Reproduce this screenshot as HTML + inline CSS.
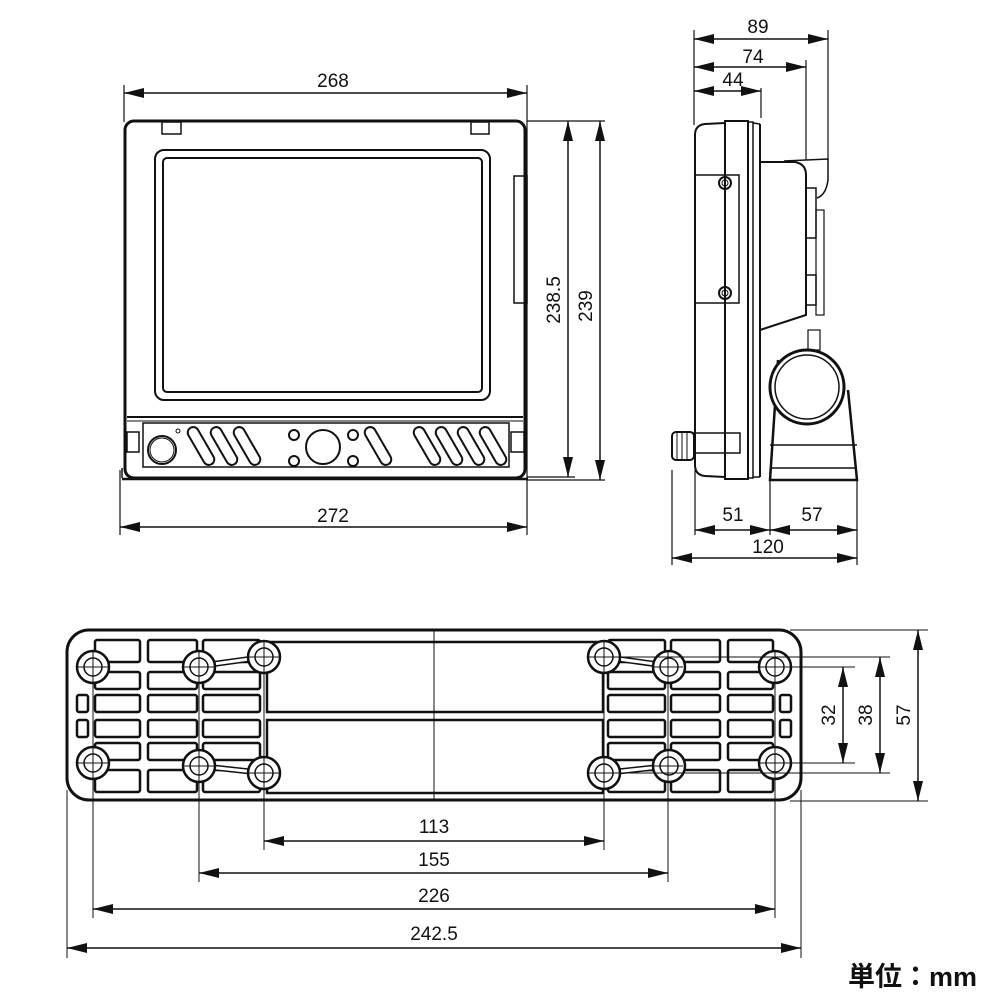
<!DOCTYPE html>
<html><head><meta charset="utf-8"><style>
html,body{margin:0;padding:0;background:#fff;width:1000px;height:1000px;overflow:hidden}
svg{display:block}
text{font-family:"Liberation Sans",Arial,sans-serif;font-size:19px;fill:#111}
</style></head><body>
<svg width="1000" height="1000" viewBox="0 0 1000 1000" xmlns="http://www.w3.org/2000/svg">
<defs>
<marker id="a" viewBox="0 0 20 10" refX="20" refY="5" markerWidth="20" markerHeight="10" markerUnits="userSpaceOnUse" orient="auto-start-reverse"><path d="M0,0 L20,5 L0,10 z" fill="#111"/></marker>
<rect id="sl" x="-5.5" y="-21" width="11" height="42" rx="5.5" transform="rotate(-30)"/>
</defs>
<g stroke="#111" fill="none">
<!-- FRONT VIEW -->
<g stroke-width="1.2">
<line x1="124" y1="85" x2="124" y2="122"/><line x1="527" y1="85" x2="527" y2="482"/>
<line x1="120" y1="470" x2="120" y2="535"/><line x1="527" y1="482" x2="527" y2="535"/>
<line x1="527" y1="121" x2="605" y2="121"/><line x1="527" y1="477" x2="575" y2="477"/><line x1="527" y1="480" x2="605" y2="480"/>
</g>
<g stroke-width="1.5">
<line x1="124" y1="93" x2="527" y2="93" marker-start="url(#a)" marker-end="url(#a)"/>
<line x1="120" y1="527" x2="527" y2="527" marker-start="url(#a)" marker-end="url(#a)"/>
<line x1="568" y1="121" x2="568" y2="477" marker-start="url(#a)" marker-end="url(#a)"/>
<line x1="600" y1="121" x2="600" y2="480" marker-start="url(#a)" marker-end="url(#a)"/>
</g>
<rect x="125" y="121" width="400" height="357" rx="9" stroke-width="3"/>
<rect x="162" y="122" width="19" height="12" stroke-width="1.5"/>
<rect x="471" y="122" width="18" height="12" stroke-width="1.5"/>
<rect x="155" y="150" width="335" height="250" rx="9" stroke-width="2"/>
<rect x="163" y="158" width="319" height="234" rx="4" stroke-width="2"/>
<line x1="127" y1="417" x2="523" y2="417" stroke-width="2"/>
<line x1="127" y1="421" x2="523" y2="421" stroke-width="1"/>
<rect x="143" y="423" width="366" height="44" stroke-width="1.5"/>
<rect x="127" y="432" width="12" height="20" stroke-width="1.5"/>
<rect x="511" y="432" width="13" height="20" stroke-width="1.5"/>
<rect x="514" y="176" width="13" height="127" stroke-width="1.5"/>
<line x1="122" y1="478" x2="122" y2="468" stroke-width="1.5"/>
<line x1="122" y1="479" x2="528" y2="479" stroke-width="2.5"/>
<circle cx="162" cy="450" r="14" stroke-width="2"/><circle cx="162" cy="450" r="12" stroke-width="1"/>
<circle cx="178" cy="431" r="2" stroke-width="1"/>
<g stroke-width="2">
<use href="#sl" x="0" y="0" transform="translate(201,446)"/>
<use href="#sl" transform="translate(224,446)"/>
<use href="#sl" transform="translate(247,446)"/>
<use href="#sl" transform="translate(378,446)"/>
<use href="#sl" transform="translate(427,446)"/>
<use href="#sl" transform="translate(449,446)"/>
<use href="#sl" transform="translate(471,446)"/>
<use href="#sl" transform="translate(493,446)"/>
<circle cx="323" cy="447" r="17"/>
<circle cx="294" cy="435" r="5"/><circle cx="294" cy="461" r="5"/>
<circle cx="353" cy="435" r="5"/><circle cx="353" cy="461" r="5"/>
</g>
<!-- SIDE VIEW -->
<g stroke-width="1.2">
<line x1="694" y1="30" x2="694" y2="125"/><line x1="761" y1="88" x2="761" y2="118"/>
<line x1="806" y1="60" x2="806" y2="160"/><line x1="828" y1="30" x2="828" y2="160"/>
<line x1="695" y1="470" x2="695" y2="535"/><line x1="770" y1="470" x2="770" y2="535"/>
<line x1="857" y1="480" x2="857" y2="565"/><line x1="672" y1="470" x2="672" y2="565"/>
</g>
<g stroke-width="1.5">
<line x1="694" y1="39" x2="828" y2="39" marker-start="url(#a)" marker-end="url(#a)"/>
<line x1="694" y1="67" x2="806" y2="67" marker-start="url(#a)" marker-end="url(#a)"/>
<line x1="694" y1="91" x2="761" y2="91" marker-start="url(#a)" marker-end="url(#a)"/>
<line x1="695" y1="530" x2="770" y2="530" marker-start="url(#a)" marker-end="url(#a)"/>
<line x1="770" y1="530" x2="857" y2="530" marker-start="url(#a)" marker-end="url(#a)"/>
<line x1="672" y1="558" x2="857" y2="558" marker-start="url(#a)" marker-end="url(#a)"/>
</g>
<path d="M725,123 L705,124 Q695,125 695,135 L695,465 Q695,475 705,476 L725,477" stroke-width="2"/>
<rect x="725" y="121" width="23" height="358" stroke-width="2"/>
<rect x="748" y="122" width="5" height="356" stroke-width="1.5"/>
<line x1="753" y1="123" x2="760" y2="124" stroke-width="1.5"/><line x1="760" y1="124" x2="760" y2="477" stroke-width="2"/>
<line x1="753" y1="477" x2="760" y2="477" stroke-width="1.5"/>
<rect x="695" y="175" width="44" height="128" stroke-width="1.5"/>
<circle cx="725" cy="183" r="6" stroke-width="2"/><circle cx="725" cy="183" r="3" stroke-width="1"/>
<circle cx="725" cy="293" r="6" stroke-width="2"/><circle cx="725" cy="293" r="3" stroke-width="1"/>
<path d="M760,162 L795,162 Q806,164 806,175 L806,315 L760,330" stroke-width="2"/>
<path d="M784,161 L828,159 L828,180 Q826,195 817,198" stroke-width="1.5"/>
<rect x="806" y="188" width="10" height="50" stroke-width="1.5"/>
<rect x="806" y="275" width="10" height="30" stroke-width="1.5"/>
<rect x="816" y="210" width="8" height="105" stroke-width="1.2"/>
<rect x="808" y="330" width="12" height="20" stroke-width="1.2"/>
<rect x="672" y="432" width="22" height="28" rx="4" stroke-width="2"/>
<line x1="677" y1="433" x2="677" y2="459" stroke-width="1"/><line x1="682" y1="433" x2="682" y2="459" stroke-width="1"/><line x1="687" y1="433" x2="687" y2="459" stroke-width="1"/>
<rect x="694" y="433" width="46" height="20" stroke-width="1.5"/>
<path d="M778,360 L770,480 L857,480 L848,390" stroke-width="2.5"/>
<line x1="770" y1="445" x2="857" y2="445" stroke-width="1.5"/>
<line x1="772" y1="468" x2="855" y2="468" stroke-width="1.5"/>
<circle cx="807" cy="387" r="37" stroke-width="3" fill="#fff"/>
<circle cx="807" cy="387" r="32" stroke-width="1.5"/>
<!-- BRACKET PLAN -->
<rect x="67" y="630" width="734" height="170" rx="22" stroke-width="3"/>
<g stroke-width="2.5">
<rect x="267" y="642" width="336" height="70"/>
<rect x="267" y="720" width="336" height="73"/>
</g>
<g id="half" stroke-width="2.5">
<rect x="95" y="640" width="45" height="22" rx="2"/><rect x="148" y="640" width="49" height="22" rx="2"/><rect x="203" y="640" width="57" height="22" rx="2"/>
<rect x="95" y="672" width="45" height="17" rx="2"/><rect x="148" y="672" width="49" height="17" rx="2"/><rect x="203" y="672" width="57" height="17" rx="2"/>
<rect x="77" y="695" width="11" height="17" rx="2"/><rect x="95" y="695" width="45" height="17" rx="2"/><rect x="148" y="695" width="49" height="17" rx="2"/><rect x="203" y="695" width="57" height="17" rx="2"/>
<rect x="77" y="720" width="11" height="17" rx="2"/><rect x="95" y="720" width="45" height="17" rx="2"/><rect x="148" y="720" width="49" height="17" rx="2"/><rect x="203" y="720" width="57" height="17" rx="2"/>
<rect x="95" y="743" width="45" height="17" rx="2"/><rect x="148" y="743" width="49" height="17" rx="2"/><rect x="203" y="743" width="57" height="17" rx="2"/>
<rect x="95" y="770" width="45" height="22" rx="2"/><rect x="148" y="770" width="49" height="22" rx="2"/><rect x="203" y="770" width="57" height="22" rx="2"/>
<path d="M199,666 L264,657 M199,766 L264,773" stroke-width="6" stroke="#111"/>
<path d="M199,666 L264,657 M199,766 L264,773" stroke-width="3" stroke="#fff"/>
<g fill="#fff">
<circle cx="93" cy="667" r="16"/><circle cx="199" cy="667" r="16"/><circle cx="264" cy="657" r="16"/>
<circle cx="93" cy="763" r="16"/><circle cx="199" cy="766" r="16"/><circle cx="264" cy="773" r="16"/>
</g>
<g stroke-width="1.5">
<circle cx="93" cy="667" r="9"/><circle cx="199" cy="667" r="9"/><circle cx="264" cy="657" r="9"/>
<circle cx="93" cy="763" r="9"/><circle cx="199" cy="766" r="9"/><circle cx="264" cy="773" r="9"/>
</g>
</g>
<use href="#half" transform="translate(868,0) scale(-1,1)"/>
<g stroke-width="1">
<line x1="434" y1="630" x2="434" y2="800"/>
<line x1="78" y1="667" x2="108" y2="667"/><line x1="93" y1="652" x2="93" y2="918"/>
<line x1="184" y1="667" x2="214" y2="667"/><line x1="199" y1="652" x2="199" y2="882"/>
<line x1="249" y1="657" x2="279" y2="657"/><line x1="264" y1="642" x2="264" y2="850"/>
<line x1="78" y1="763" x2="108" y2="763"/><line x1="184" y1="766" x2="214" y2="766"/><line x1="249" y1="773" x2="279" y2="773"/>
<line x1="589" y1="657" x2="619" y2="657"/><line x1="604" y1="642" x2="604" y2="850"/>
<line x1="653" y1="667" x2="683" y2="667"/><line x1="668" y1="652" x2="668" y2="882"/>
<line x1="760" y1="667" x2="855" y2="667"/><line x1="775" y1="652" x2="775" y2="918"/>
<line x1="589" y1="773" x2="619" y2="773"/><line x1="653" y1="766" x2="683" y2="766"/>
<line x1="760" y1="763" x2="855" y2="763"/>
<line x1="604" y1="657" x2="890" y2="657"/><line x1="604" y1="773" x2="890" y2="773"/>
<line x1="790" y1="630" x2="928" y2="630"/><line x1="790" y1="801" x2="928" y2="801"/>
<line x1="67" y1="790" x2="67" y2="958"/><line x1="801" y1="790" x2="801" y2="958"/>
</g>
<g stroke-width="1.5">
<line x1="264" y1="841" x2="604" y2="841" marker-start="url(#a)" marker-end="url(#a)"/>
<line x1="199" y1="873" x2="668" y2="873" marker-start="url(#a)" marker-end="url(#a)"/>
<line x1="93" y1="909" x2="775" y2="909" marker-start="url(#a)" marker-end="url(#a)"/>
<line x1="67" y1="948" x2="801" y2="948" marker-start="url(#a)" marker-end="url(#a)"/>
<line x1="843" y1="667" x2="843" y2="763" marker-start="url(#a)" marker-end="url(#a)"/>
<line x1="880" y1="657" x2="880" y2="773" marker-start="url(#a)" marker-end="url(#a)"/>
<line x1="918" y1="630" x2="918" y2="801" marker-start="url(#a)" marker-end="url(#a)"/>
</g>
</g>
<g text-anchor="middle">
<text x="333" y="87">268</text>
<text x="333" y="522">272</text>
<text transform="translate(560,300) rotate(-90)">238.5</text>
<text transform="translate(592,306) rotate(-90)">239</text>
<text x="758" y="33">89</text>
<text x="753" y="63">74</text>
<text x="733" y="86">44</text>
<text x="733" y="521">51</text>
<text x="812" y="521">57</text>
<text x="768" y="553">120</text>
<text x="434" y="833">113</text>
<text x="434" y="866">155</text>
<text x="434" y="902">226</text>
<text x="434" y="940">242.5</text>
<text transform="translate(835,715) rotate(-90)">32</text>
<text transform="translate(872,715) rotate(-90)">38</text>
<text transform="translate(910,715) rotate(-90)">57</text>
</g>
<text x="848" y="986" style="font-family:'Liberation Sans','Noto Sans CJK JP',sans-serif;font-size:27px;font-weight:bold">単位：mm</text>
</svg>
</body></html>
